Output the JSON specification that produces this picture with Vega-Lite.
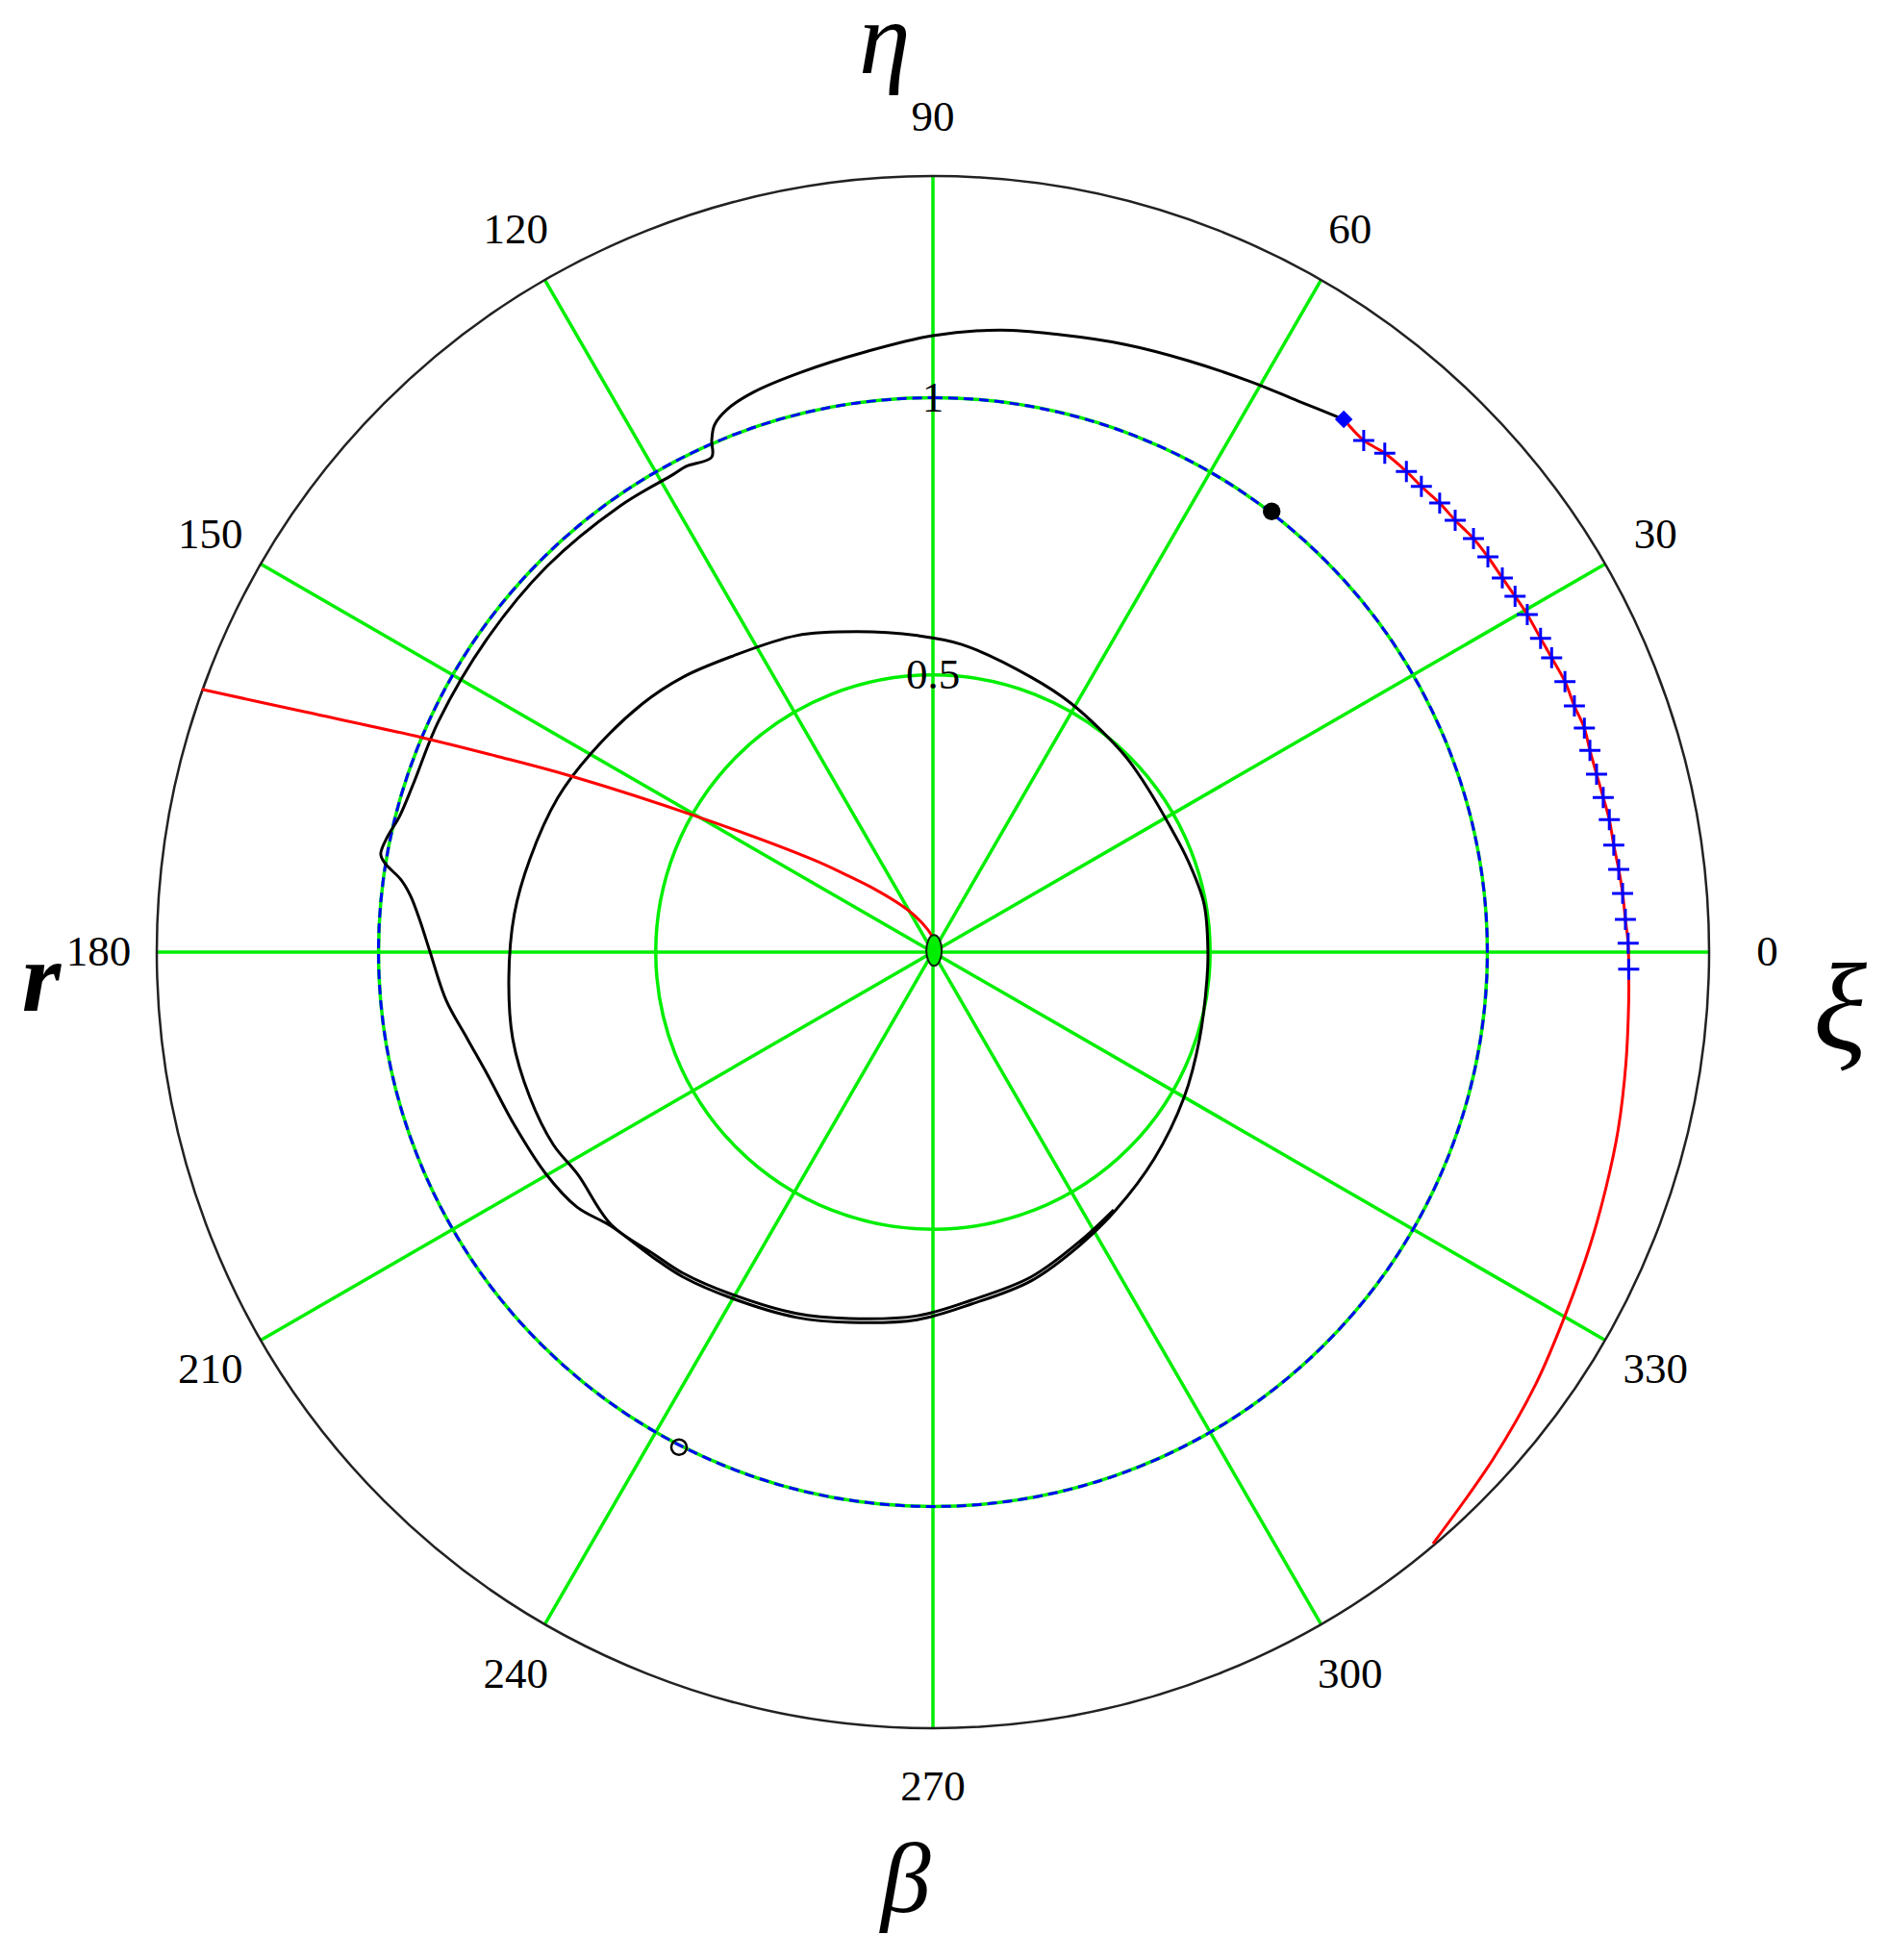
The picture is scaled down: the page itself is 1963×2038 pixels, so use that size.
{
  "$schema": "https://vega.github.io/schema/vega-lite/v6.json",
  "width": 1614,
  "height": 1614,
  "autosize": {"type": "none"},
  "padding": {"left": 163, "top": 183, "right": 186, "bottom": 241},
  "background": "white",
  "config": {"view": {"stroke": null}},
  "datasets": {
    "spokes": [
      {"a": 0, "xi": -1.4, "eta": 0, "xi2": 1.4, "eta2": 0},
      {"a": 30, "xi": -1.2124, "eta": -0.7, "xi2": 1.2124, "eta2": 0.7},
      {"a": 60, "xi": -0.7, "eta": -1.2124, "xi2": 0.7, "eta2": 1.2124},
      {"a": 90, "xi": 0, "eta": -1.4, "xi2": 0, "eta2": 1.4},
      {"a": 120, "xi": 0.7, "eta": -1.2124, "xi2": -0.7, "eta2": 1.2124},
      {"a": 150, "xi": 1.2124, "eta": -0.7, "xi2": -1.2124, "eta2": 0.7}
    ],
    "rings": [
      {"r": 0.5, "ring": "grid"},
      {"r": 1.0, "ring": "grid"},
      {"r": 1.0, "ring": "unit"},
      {"r": 1.4, "ring": "outer"}
    ],
    "black": [
      {"i": 1, "xi": 0.741, "eta": 0.961}, {"i": 2, "xi": 0.659, "eta": 0.994}, {"i": 3, "xi": 0.573, "eta": 1.029},
      {"i": 4, "xi": 0.46, "eta": 1.067}, {"i": 5, "xi": 0.347, "eta": 1.096}, {"i": 6, "xi": 0.226, "eta": 1.114},
      {"i": 7, "xi": 0.121, "eta": 1.122}, {"i": 8, "xi": 0.0, "eta": 1.112}, {"i": 9, "xi": -0.121, "eta": 1.083},
      {"i": 10, "xi": -0.238, "eta": 1.046}, {"i": 11, "xi": -0.324, "eta": 1.01}, {"i": 12, "xi": -0.37, "eta": 0.98},
      {"i": 13, "xi": -0.394, "eta": 0.951}, {"i": 14, "xi": -0.399, "eta": 0.923}, {"i": 15, "xi": -0.399, "eta": 0.893},
      {"i": 16, "xi": -0.446, "eta": 0.876}, {"i": 17, "xi": -0.468, "eta": 0.862}, {"i": 18, "xi": -0.564, "eta": 0.805},
      {"i": 19, "xi": -0.696, "eta": 0.696}, {"i": 20, "xi": -0.805, "eta": 0.564}, {"i": 21, "xi": -0.892, "eta": 0.416},
      {"i": 22, "xi": -0.937, "eta": 0.304}, {"i": 23, "xi": -0.963, "eta": 0.243}, {"i": 24, "xi": -0.984, "eta": 0.208},
      {"i": 25, "xi": -0.996, "eta": 0.177}, {"i": 26, "xi": -0.989, "eta": 0.161}, {"i": 27, "xi": -0.959, "eta": 0.13},
      {"i": 28, "xi": -0.942, "eta": 0.101}, {"i": 29, "xi": -0.925, "eta": 0.056}, {"i": 30, "xi": -0.907, "eta": 0.0},
      {"i": 31, "xi": -0.878, "eta": -0.087}, {"i": 32, "xi": -0.84, "eta": -0.156}, {"i": 33, "xi": -0.803, "eta": -0.222},
      {"i": 34, "xi": -0.755, "eta": -0.312}, {"i": 35, "xi": -0.699, "eta": -0.399}, {"i": 36, "xi": -0.642, "eta": -0.46},
      {"i": 37, "xi": -0.581, "eta": -0.494}, {"i": 38, "xi": -0.503, "eta": -0.552}, {"i": 39, "xi": -0.451, "eta": -0.586},
      {"i": 40, "xi": -0.361, "eta": -0.625}, {"i": 41, "xi": -0.246, "eta": -0.659}, {"i": 42, "xi": -0.151, "eta": -0.668},
      {"i": 43, "xi": -0.028, "eta": -0.663}, {"i": 44, "xi": 0.069, "eta": -0.635}, {"i": 45, "xi": 0.177, "eta": -0.593},
      {"i": 46, "xi": 0.267, "eta": -0.527}, {"i": 47, "xi": 0.33, "eta": -0.465}, {"i": 48, "xi": 0.399, "eta": -0.373},
      {"i": 49, "xi": 0.453, "eta": -0.262}, {"i": 50, "xi": 0.481, "eta": -0.156}, {"i": 51, "xi": 0.494, "eta": -0.052},
      {"i": 52, "xi": 0.496, "eta": 0.0}, {"i": 53, "xi": 0.489, "eta": 0.087}, {"i": 54, "xi": 0.46, "eta": 0.165},
      {"i": 55, "xi": 0.432, "eta": 0.219}, {"i": 56, "xi": 0.382, "eta": 0.304}, {"i": 57, "xi": 0.344, "eta": 0.357},
      {"i": 58, "xi": 0.25, "eta": 0.448}, {"i": 59, "xi": 0.177, "eta": 0.496}, {"i": 60, "xi": 0.052, "eta": 0.555},
      {"i": 61, "xi": -0.028, "eta": 0.571}, {"i": 62, "xi": -0.137, "eta": 0.578}, {"i": 63, "xi": -0.246, "eta": 0.571},
      {"i": 64, "xi": -0.364, "eta": 0.533}, {"i": 65, "xi": -0.451, "eta": 0.496}, {"i": 66, "xi": -0.524, "eta": 0.448},
      {"i": 67, "xi": -0.618, "eta": 0.357}, {"i": 68, "xi": -0.677, "eta": 0.278}, {"i": 69, "xi": -0.727, "eta": 0.168},
      {"i": 70, "xi": -0.755, "eta": 0.069}, {"i": 71, "xi": -0.765, "eta": -0.047}, {"i": 72, "xi": -0.758, "eta": -0.156},
      {"i": 73, "xi": -0.727, "eta": -0.262}, {"i": 74, "xi": -0.685, "eta": -0.347}, {"i": 75, "xi": -0.64, "eta": -0.402},
      {"i": 76, "xi": -0.581, "eta": -0.491}, {"i": 77, "xi": -0.503, "eta": -0.545}, {"i": 78, "xi": -0.451, "eta": -0.579},
      {"i": 79, "xi": -0.361, "eta": -0.618}, {"i": 80, "xi": -0.246, "eta": -0.652}, {"i": 81, "xi": -0.151, "eta": -0.661},
      {"i": 82, "xi": -0.028, "eta": -0.656}, {"i": 83, "xi": 0.069, "eta": -0.628}, {"i": 84, "xi": 0.177, "eta": -0.586},
      {"i": 85, "xi": 0.267, "eta": -0.52}, {"i": 86, "xi": 0.326, "eta": -0.465}
    ],
    "red1": [
      {"i": 1, "xi": 0.741, "eta": 0.961}, {"i": 2, "xi": 0.777, "eta": 0.923}, {"i": 3, "xi": 0.815, "eta": 0.9},
      {"i": 4, "xi": 0.854, "eta": 0.867}, {"i": 5, "xi": 0.881, "eta": 0.84}, {"i": 6, "xi": 0.914, "eta": 0.81},
      {"i": 7, "xi": 0.942, "eta": 0.779}, {"i": 8, "xi": 0.975, "eta": 0.746}, {"i": 9, "xi": 1.001, "eta": 0.713},
      {"i": 10, "xi": 1.027, "eta": 0.675}, {"i": 11, "xi": 1.05, "eta": 0.642}, {"i": 12, "xi": 1.072, "eta": 0.609},
      {"i": 13, "xi": 1.096, "eta": 0.566}, {"i": 14, "xi": 1.116, "eta": 0.531}, {"i": 15, "xi": 1.14, "eta": 0.488},
      {"i": 16, "xi": 1.157, "eta": 0.444}, {"i": 17, "xi": 1.175, "eta": 0.404}, {"i": 18, "xi": 1.185, "eta": 0.364},
      {"i": 19, "xi": 1.197, "eta": 0.321}, {"i": 20, "xi": 1.209, "eta": 0.279}, {"i": 21, "xi": 1.22, "eta": 0.239},
      {"i": 22, "xi": 1.228, "eta": 0.193}, {"i": 23, "xi": 1.237, "eta": 0.149}, {"i": 24, "xi": 1.244, "eta": 0.106},
      {"i": 25, "xi": 1.249, "eta": 0.059}, {"i": 26, "xi": 1.254, "eta": 0.016}, {"i": 27, "xi": 1.255, "eta": -0.031},
      {"i": 28, "xi": 1.255, "eta": -0.087}, {"i": 29, "xi": 1.25, "eta": -0.2}, {"i": 30, "xi": 1.236, "eta": -0.32},
      {"i": 31, "xi": 1.214, "eta": -0.425}, {"i": 32, "xi": 1.185, "eta": -0.53}, {"i": 33, "xi": 1.14, "eta": -0.656},
      {"i": 34, "xi": 1.087, "eta": -0.78}, {"i": 35, "xi": 1.01, "eta": -0.915}, {"i": 36, "xi": 0.902, "eta": -1.067}
    ],
    "red2": [
      {"i": 1, "xi": -1.319, "eta": 0.474}, {"i": 2, "xi": -1.136, "eta": 0.434}, {"i": 3, "xi": -0.921, "eta": 0.387},
      {"i": 4, "xi": -0.789, "eta": 0.354}, {"i": 5, "xi": -0.651, "eta": 0.317}, {"i": 6, "xi": -0.43, "eta": 0.246},
      {"i": 7, "xi": -0.217, "eta": 0.167}, {"i": 8, "xi": -0.156, "eta": 0.139}, {"i": 9, "xi": -0.104, "eta": 0.113},
      {"i": 10, "xi": -0.061, "eta": 0.087}, {"i": 11, "xi": -0.031, "eta": 0.064}, {"i": 12, "xi": -0.009, "eta": 0.04},
      {"i": 13, "xi": 0.005, "eta": 0.017}
    ],
    "crosses": [
      {"xi": 0.777, "eta": 0.923}, {"xi": 0.815, "eta": 0.9}, {"xi": 0.854, "eta": 0.867}, {"xi": 0.881, "eta": 0.84},
      {"xi": 0.914, "eta": 0.81}, {"xi": 0.942, "eta": 0.779}, {"xi": 0.975, "eta": 0.746}, {"xi": 1.001, "eta": 0.713},
      {"xi": 1.027, "eta": 0.675}, {"xi": 1.05, "eta": 0.642}, {"xi": 1.072, "eta": 0.609}, {"xi": 1.096, "eta": 0.566},
      {"xi": 1.116, "eta": 0.531}, {"xi": 1.14, "eta": 0.488}, {"xi": 1.157, "eta": 0.444}, {"xi": 1.175, "eta": 0.404},
      {"xi": 1.185, "eta": 0.364}, {"xi": 1.197, "eta": 0.321}, {"xi": 1.209, "eta": 0.279}, {"xi": 1.22, "eta": 0.239},
      {"xi": 1.228, "eta": 0.193}, {"xi": 1.237, "eta": 0.149}, {"xi": 1.244, "eta": 0.106}, {"xi": 1.249, "eta": 0.059},
      {"xi": 1.254, "eta": 0.016}, {"xi": 1.255, "eta": -0.031}
    ],
    "markers": [
      {"kind": "start", "xi": 0.741, "eta": 0.961},
      {"kind": "dot", "xi": 0.611, "eta": 0.795},
      {"kind": "ring", "xi": -0.458, "eta": -0.893},
      {"kind": "origin", "xi": 0.002, "eta": 0.003}
    ],
    "angleLabels": [
      {"t": "0", "xi": 1.505, "eta": 0}, {"t": "30", "xi": 1.3034, "eta": 0.7525},
      {"t": "60", "xi": 0.7525, "eta": 1.3034}, {"t": "90", "xi": 0, "eta": 1.505},
      {"t": "120", "xi": -0.7525, "eta": 1.3034}, {"t": "150", "xi": -1.3034, "eta": 0.7525},
      {"t": "180", "xi": -1.505, "eta": 0}, {"t": "210", "xi": -1.3034, "eta": -0.7525},
      {"t": "240", "xi": -0.7525, "eta": -1.3034}, {"t": "270", "xi": 0, "eta": -1.505},
      {"t": "300", "xi": 0.7525, "eta": -1.3034}, {"t": "330", "xi": 1.3034, "eta": -0.7525}
    ],
    "radiusLabels": [
      {"t": "1", "xi": 0, "eta": 1.0}, {"t": "0.5", "xi": 0, "eta": 0.5}
    ],
    "axisNames": [
      {"t": "η", "xi": -0.087, "eta": 1.641, "fs": "eta"},
      {"t": "ξ", "xi": 1.636, "eta": -0.108, "fs": "xi"},
      {"t": "β", "xi": -0.049, "eta": -1.678, "fs": "beta"},
      {"t": "r", "xi": -1.608, "eta": -0.052, "fs": "r"}
    ]
  },
  "layer": [
    {
      "data": {"name": "spokes"},
      "mark": {"type": "rule", "color": "#00ee00", "strokeWidth": 3.5},
      "encoding": {
        "x": {"field": "xi", "type": "quantitative", "scale": {"domain": [-1.4, 1.4], "nice": false, "zero": false}, "axis": null},
        "y": {"field": "eta", "type": "quantitative", "scale": {"domain": [-1.4, 1.4], "nice": false, "zero": false}, "axis": null},
        "x2": {"field": "xi2"},
        "y2": {"field": "eta2"}
      }
    },
    {
      "data": {"name": "rings"},
      "transform": [{"filter": "datum.ring == 'grid'"}],
      "mark": {"type": "arc", "theta": 0, "theta2": 6.283185307179586, "filled": false, "stroke": "#00ee00", "strokeWidth": 3.5},
      "encoding": {
        "radius": {"field": "r", "type": "quantitative", "stack": null, "scale": {"type": "linear", "domain": [0, 1.4], "range": [0, 807], "zero": true}}
      }
    },
    {
      "data": {"name": "rings"},
      "transform": [{"filter": "datum.ring == 'unit'"}],
      "mark": {"type": "arc", "theta": 0, "theta2": 6.283185307179586, "filled": false, "stroke": "#0000ff", "strokeWidth": 3, "strokeDash": [10, 6]},
      "encoding": {
        "radius": {"field": "r", "type": "quantitative", "stack": null, "scale": {"type": "linear", "domain": [0, 1.4], "range": [0, 807], "zero": true}}
      }
    },
    {
      "data": {"name": "rings"},
      "transform": [{"filter": "datum.ring == 'outer'"}],
      "mark": {"type": "arc", "theta": 0, "theta2": 6.283185307179586, "filled": false, "stroke": "#222222", "strokeWidth": 2.5},
      "encoding": {
        "radius": {"field": "r", "type": "quantitative", "stack": null, "scale": {"type": "linear", "domain": [0, 1.4], "range": [0, 807], "zero": true}}
      }
    },
    {
      "data": {"name": "black"},
      "mark": {"type": "line", "color": "#000000", "strokeWidth": 3, "interpolate": "catmull-rom", "strokeJoin": "round"},
      "encoding": {
        "x": {"field": "xi", "type": "quantitative"},
        "y": {"field": "eta", "type": "quantitative"},
        "order": {"field": "i", "type": "quantitative"}
      }
    },
    {
      "data": {"name": "red1"},
      "mark": {"type": "line", "color": "#ff0000", "strokeWidth": 3, "interpolate": "catmull-rom"},
      "encoding": {
        "x": {"field": "xi", "type": "quantitative"},
        "y": {"field": "eta", "type": "quantitative"},
        "order": {"field": "i", "type": "quantitative"}
      }
    },
    {
      "data": {"name": "red2"},
      "mark": {"type": "line", "color": "#ff0000", "strokeWidth": 3, "interpolate": "catmull-rom"},
      "encoding": {
        "x": {"field": "xi", "type": "quantitative"},
        "y": {"field": "eta", "type": "quantitative"},
        "order": {"field": "i", "type": "quantitative"}
      }
    },
    {
      "data": {"name": "crosses"},
      "mark": {"type": "point", "shape": "M-1,0L1,0M0,-1L0,1", "filled": false, "stroke": "#0000ff", "strokeWidth": 3, "size": 480, "opacity": 1},
      "encoding": {
        "x": {"field": "xi", "type": "quantitative"},
        "y": {"field": "eta", "type": "quantitative"}
      }
    },
    {
      "data": {"name": "markers"},
      "transform": [{"filter": "datum.kind == 'start'"}],
      "mark": {"type": "point", "shape": "diamond", "filled": true, "color": "#0000ff", "size": 340, "opacity": 1},
      "encoding": {
        "x": {"field": "xi", "type": "quantitative"},
        "y": {"field": "eta", "type": "quantitative"}
      }
    },
    {
      "data": {"name": "markers"},
      "transform": [{"filter": "datum.kind == 'dot'"}],
      "mark": {"type": "point", "shape": "circle", "filled": true, "color": "#000000", "size": 340, "opacity": 1},
      "encoding": {
        "x": {"field": "xi", "type": "quantitative"},
        "y": {"field": "eta", "type": "quantitative"}
      }
    },
    {
      "data": {"name": "markers"},
      "transform": [{"filter": "datum.kind == 'ring'"}],
      "mark": {"type": "point", "shape": "circle", "filled": false, "stroke": "#000000", "strokeWidth": 2.5, "size": 260, "opacity": 1},
      "encoding": {
        "x": {"field": "xi", "type": "quantitative"},
        "y": {"field": "eta", "type": "quantitative"}
      }
    },
    {
      "data": {"name": "markers"},
      "transform": [{"filter": "datum.kind == 'origin'"}],
      "mark": {"type": "point", "shape": "M0,-1A0.5,1 0 1,1 0,1A0.5,1 0 1,1 0,-1Z", "filled": true, "fill": "#00ee00", "stroke": "#102010", "strokeWidth": 2, "size": 1024, "opacity": 1},
      "encoding": {
        "x": {"field": "xi", "type": "quantitative"},
        "y": {"field": "eta", "type": "quantitative"}
      }
    },
    {
      "data": {"name": "angleLabels"},
      "mark": {"type": "text", "font": "Liberation Serif", "fontSize": 45, "align": "center", "baseline": "middle", "color": "#000000"},
      "encoding": {
        "x": {"field": "xi", "type": "quantitative"},
        "y": {"field": "eta", "type": "quantitative"},
        "text": {"field": "t"}
      }
    },
    {
      "data": {"name": "radiusLabels"},
      "mark": {"type": "text", "font": "Liberation Serif", "fontSize": 45, "align": "center", "baseline": "middle", "color": "#000000"},
      "encoding": {
        "x": {"field": "xi", "type": "quantitative"},
        "y": {"field": "eta", "type": "quantitative"},
        "text": {"field": "t"}
      }
    },
    {
      "data": {"name": "axisNames"},
      "transform": [{"filter": "datum.fs == 'eta'"}],
      "mark": {"type": "text", "font": "Liberation Serif", "fontSize": 108, "fontStyle": "italic", "align": "center", "baseline": "middle", "color": "#000000"},
      "encoding": {
        "x": {"field": "xi", "type": "quantitative"},
        "y": {"field": "eta", "type": "quantitative"},
        "text": {"field": "t"}
      }
    },
    {
      "data": {"name": "axisNames"},
      "transform": [{"filter": "datum.fs == 'xi'"}],
      "mark": {"type": "text", "font": "Liberation Serif", "fontSize": 130, "fontStyle": "italic", "align": "center", "baseline": "middle", "color": "#000000"},
      "encoding": {
        "x": {"field": "xi", "type": "quantitative"},
        "y": {"field": "eta", "type": "quantitative"},
        "text": {"field": "t"}
      }
    },
    {
      "data": {"name": "axisNames"},
      "transform": [{"filter": "datum.fs == 'beta'"}],
      "mark": {"type": "text", "font": "Liberation Serif", "fontSize": 104, "fontStyle": "italic", "align": "center", "baseline": "middle", "color": "#000000"},
      "encoding": {
        "x": {"field": "xi", "type": "quantitative"},
        "y": {"field": "eta", "type": "quantitative"},
        "text": {"field": "t"}
      }
    },
    {
      "data": {"name": "axisNames"},
      "transform": [{"filter": "datum.fs == 'r'"}],
      "mark": {"type": "text", "font": "Liberation Serif", "fontSize": 104, "fontStyle": "italic", "fontWeight": "bold", "align": "center", "baseline": "middle", "color": "#000000"},
      "encoding": {
        "x": {"field": "xi", "type": "quantitative"},
        "y": {"field": "eta", "type": "quantitative"},
        "text": {"field": "t"}
      }
    }
  ]
}
